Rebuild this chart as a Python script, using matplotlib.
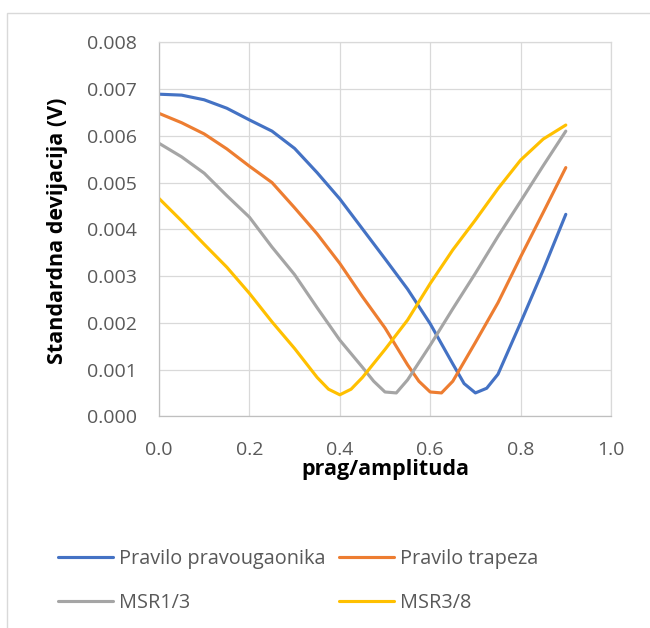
import matplotlib
matplotlib.use("Agg")
import matplotlib.pyplot as plt
from matplotlib.patches import Rectangle

plt.rcParams['font.family'] = ['Open Sans', 'DejaVu Sans']

# data
x_rect = [0.0, 0.05, 0.1, 0.15, 0.2, 0.25, 0.3, 0.35, 0.4, 0.45, 0.5, 0.55,
          0.6, 0.65, 0.675, 0.7, 0.725, 0.75, 0.8, 0.85, 0.9]
y_rect = [0.00689, 0.00687, 0.00677, 0.00659, 0.00634, 0.00610, 0.00573, 0.00521,
          0.00465, 0.00401, 0.00337, 0.00272, 0.00198, 0.00112, 0.00070, 0.00050,
          0.00060, 0.00090, 0.00200, 0.00313, 0.00432]

x_trap = [0.0, 0.05, 0.1, 0.15, 0.2, 0.25, 0.3, 0.35, 0.4, 0.45, 0.5, 0.55,
          0.575, 0.6, 0.625, 0.65, 0.7, 0.75, 0.8, 0.85, 0.9]
y_trap = [0.00648, 0.00628, 0.00604, 0.00572, 0.00535, 0.00500, 0.00446, 0.00390,
          0.00327, 0.00256, 0.00189, 0.00110, 0.00075, 0.00052, 0.00050, 0.00075,
          0.00158, 0.00243, 0.00341, 0.00436, 0.00532]

x_msr13 = [0.0, 0.05, 0.1, 0.15, 0.2, 0.25, 0.3, 0.35, 0.4, 0.45, 0.475, 0.5,
           0.525, 0.55, 0.6, 0.65, 0.7, 0.75, 0.8, 0.85, 0.9]
y_msr13 = [0.00584, 0.00555, 0.00520, 0.00472, 0.00426, 0.00362, 0.00303, 0.00232,
           0.00163, 0.00105, 0.00075, 0.00052, 0.00050, 0.00078, 0.00152, 0.00230,
           0.00306, 0.00385, 0.00460, 0.00536, 0.00610]

x_msr38 = [0.0, 0.05, 0.1, 0.15, 0.2, 0.25, 0.3, 0.35, 0.375, 0.4, 0.425, 0.45,
           0.5, 0.55, 0.6, 0.65, 0.7, 0.75, 0.8, 0.85, 0.9]
y_msr38 = [0.00466, 0.00418, 0.00368, 0.00319, 0.00263, 0.00202, 0.00145, 0.00083,
           0.00058, 0.00046, 0.00058, 0.00083, 0.00143, 0.00206, 0.00284, 0.00356,
           0.00420, 0.00487, 0.00548, 0.00593, 0.00623]

labels = ['Pravilo pravougaonika', 'Pravilo trapeza', 'MSR1/3', 'MSR3/8']
colors = ['#4472C4', '#ED7D31', '#A5A5A5', '#FFC000']

xticks = [0.0, 0.2, 0.4, 0.6, 0.8, 1.0]
yticks = [0.000, 0.001, 0.002, 0.003, 0.004, 0.005, 0.006, 0.007, 0.008]

fig = plt.figure(figsize=(6.5, 6.28), dpi=100)
ax = fig.add_axes([159/650, 1 - 416.3/628, 452/650, 374/628])

series = [(x_rect, y_rect), (x_trap, y_trap), (x_msr13, y_msr13), (x_msr38, y_msr38)]
lines = []
for (xs, ys), lab, col in zip(series, labels, colors):
    ln, = ax.plot(xs, ys, color=col, lw=2.25, label=lab, solid_capstyle='round',
                  solid_joinstyle='round')
    lines.append(ln)

ax.set_xlim(0, 1.0)
ax.set_ylim(0, 0.008)
ax.set_xticks(xticks)
ax.set_yticks(yticks)
ax.set_xticklabels(['%.1f' % v for v in xticks])
ax.set_yticklabels(['%.3f' % v for v in yticks])
ax.tick_params(length=0, labelsize=14, labelcolor='#595959')
ax.tick_params(axis='x', pad=18)
ax.tick_params(axis='y', pad=16)
ax.grid(True, color='#D9D9D9', lw=0.9)
ax.set_axisbelow(True)
for s in ['top', 'right']:
    ax.spines[s].set_color('#D9D9D9')
for s in ['left', 'bottom']:
    ax.spines[s].set_color('#BFBFBF')
for s in ax.spines.values():
    s.set_linewidth(0.9)

fig.text(385/650, 1 - 469/628, 'prag/amplituda',
         ha='center', va='center', fontsize=15.5, fontweight='bold')
fig.text(58/650, 1 - 231/628, 'Standardna devijacija (V)', rotation=90,
         ha='center', va='center', fontsize=15.5, fontweight='bold')

# row-wise order like Excel: legend fills columns first
order = [0, 2, 1, 3]
fig.legend([lines[i] for i in order], [labels[i] for i in order],
           loc='upper left', bbox_to_anchor=(58/650, 1 - 549/628), ncol=2,
           frameon=False, fontsize=14.3, labelcolor='#595959', borderpad=0,
           handlelength=2.75, handletextpad=0.3, columnspacing=0.7,
           labelspacing=1.2, borderaxespad=0)

fig.patches.append(Rectangle((7/650, -0.05), 1.2, 1.05 - 13/628,
                             transform=fig.transFigure, fill=False,
                             edgecolor='#D9D9D9', lw=1))

fig.savefig('out.png', dpi=100)
